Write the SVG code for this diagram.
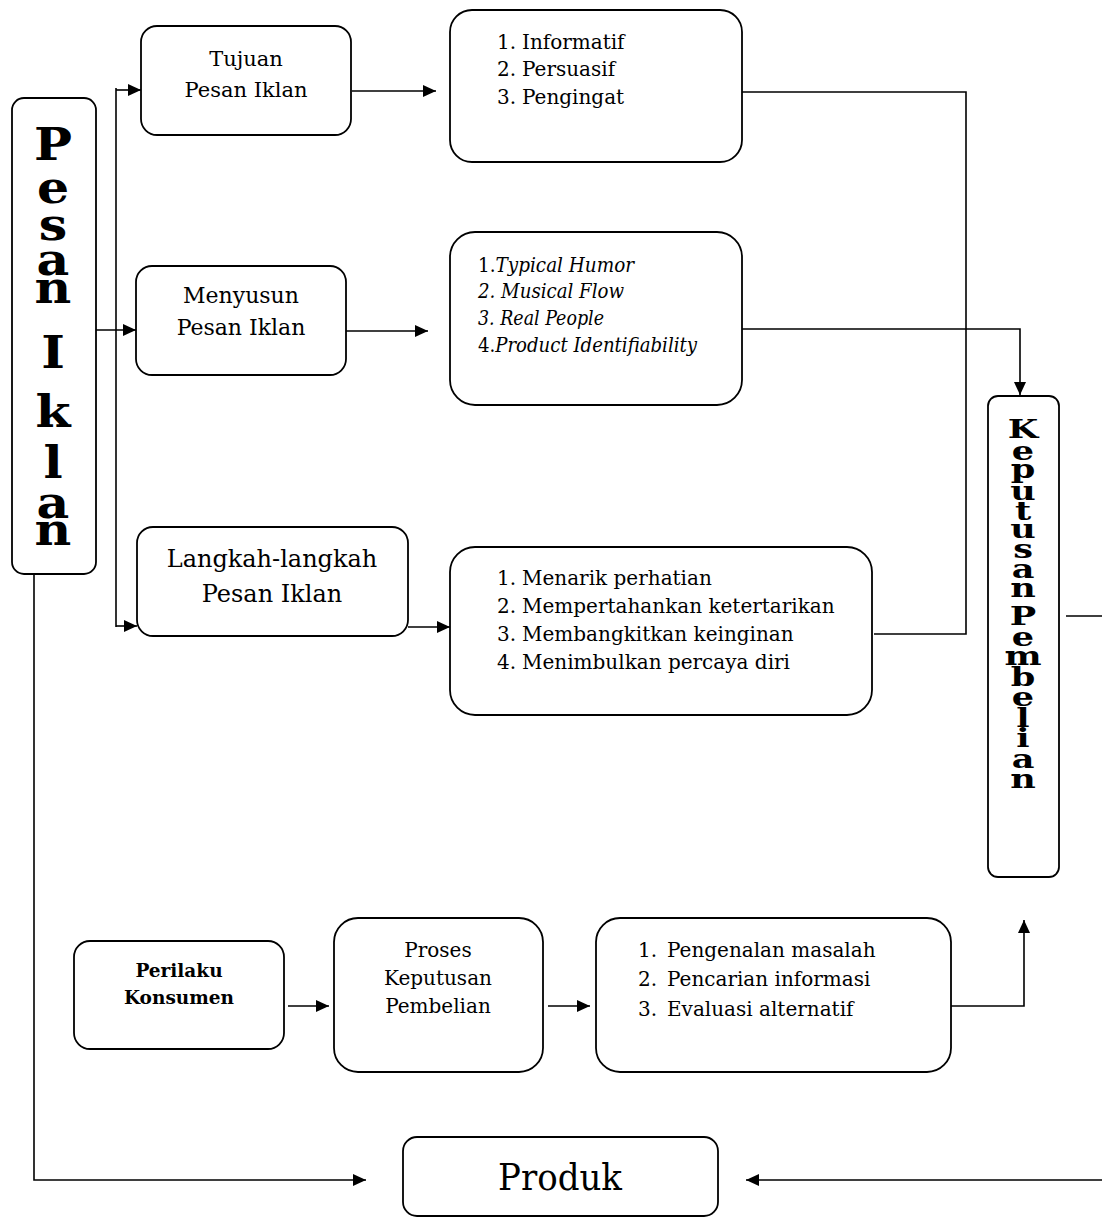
<svg xmlns="http://www.w3.org/2000/svg" width="1102" height="1218" viewBox="0 0 1102 1218">
<style>
.box{fill:#fff;stroke:#000;stroke-width:1.8}
.ln{fill:none;stroke:#000;stroke-width:1.6}
.t{font-family:"DejaVu Serif","Liberation Serif",serif;fill:#000}
.c{text-anchor:middle}
.it{font-style:italic}
.big{font-family:"DejaVu Serif","Liberation Serif",serif;font-weight:bold;fill:#000;text-anchor:middle}
</style>
<defs>
<marker id="ah" markerUnits="userSpaceOnUse" markerWidth="14" markerHeight="14" refX="13" refY="6" orient="auto">
<path d="M0,0 L13,6 L0,12 z" fill="#000"/>
</marker>
</defs>
<g id="connectors">
<path class="ln" d="M116,88 V627"/>
<path class="ln" d="M116,90 H141" marker-end="url(#ah)"/>
<path class="ln" d="M96,330 H136" marker-end="url(#ah)"/>
<path class="ln" d="M116,626 H137" marker-end="url(#ah)"/>
<path class="ln" d="M352,91 H436" marker-end="url(#ah)"/>
<path class="ln" d="M346,331 H428" marker-end="url(#ah)"/>
<path class="ln" d="M408,627 H450" marker-end="url(#ah)"/>
<path class="ln" d="M742,92 H966 V634 H874"/>
<path class="ln" d="M742,329 H1020 V395" marker-end="url(#ah)"/>
<path class="ln" d="M1066,616 H1106 V1180 H746" marker-end="url(#ah)"/>
<path class="ln" d="M34,574 V1180 H366" marker-end="url(#ah)"/>
<path class="ln" d="M288,1006 H329" marker-end="url(#ah)"/>
<path class="ln" d="M548,1006 H590" marker-end="url(#ah)"/>
<path class="ln" d="M951,1006 H1024 V920" marker-end="url(#ah)"/>
</g>
<g id="pesan-iklan">
<rect class="box" x="12" y="98" width="84" height="476" rx="12"/>
<g transform="translate(53 0) scale(1.15 1)">
<text class="big" style="font-size:44px"><tspan x="0" y="160">P</tspan><tspan x="0" y="203">e</tspan><tspan x="0" y="240">s</tspan><tspan x="0" y="275">a</tspan><tspan x="0" y="303">n</tspan><tspan x="0" y="368">I</tspan><tspan x="0" y="427">k</tspan><tspan x="0" y="478">l</tspan><tspan x="0" y="518">a</tspan><tspan x="0" y="545">n</tspan></text>
</g>
</g>
<g id="tujuan">
<rect class="box" x="141" y="26" width="210" height="109" rx="16"/>
<text class="t c" x="246" y="66" style="font-size:21px">Tujuan</text>
<text class="t c" x="246" y="97" style="font-size:21px">Pesan Iklan</text>
</g>
<g id="informatif" style="font-size:20px">
<rect class="box" x="450" y="10" width="292" height="152" rx="22"/>
<text class="t" y="49"><tspan x="497">1.</tspan><tspan x="522">Informatif</tspan></text>
<text class="t" y="76"><tspan x="497">2.</tspan><tspan x="522">Persuasif</tspan></text>
<text class="t" y="104"><tspan x="497">3.</tspan><tspan x="522">Pengingat</tspan></text>
</g>
<g id="menyusun">
<rect class="box" x="136" y="266" width="210" height="109" rx="16"/>
<text class="t c" x="241" y="303" style="font-size:22px">Menyusun</text>
<text class="t c" x="241" y="335" style="font-size:22px">Pesan Iklan</text>
</g>
<g id="typical" style="font-size:20px">
<rect class="box" x="450" y="232" width="292" height="173" rx="25"/>
<text class="t" x="478" y="272" textLength="156" lengthAdjust="spacingAndGlyphs">1.<tspan class="it">Typical Humor</tspan></text>
<text class="t it" x="478" y="298" textLength="146" lengthAdjust="spacingAndGlyphs">2. Musical Flow</text>
<text class="t it" x="478" y="325" textLength="126" lengthAdjust="spacingAndGlyphs">3. Real People</text>
<text class="t" x="478" y="352" textLength="219" lengthAdjust="spacingAndGlyphs">4.<tspan class="it">Product Identifiability</tspan></text>
</g>
<g id="langkah">
<rect class="box" x="137" y="527" width="271" height="109" rx="16"/>
<text class="t c" x="272" y="567" style="font-size:24px">Langkah-langkah</text>
<text class="t c" x="272" y="602" style="font-size:24px">Pesan Iklan</text>
</g>
<g id="menarik" style="font-size:20px">
<rect class="box" x="450" y="547" width="422" height="168" rx="25"/>
<text class="t" y="585"><tspan x="497">1.</tspan><tspan x="522">Menarik perhatian</tspan></text>
<text class="t" y="613"><tspan x="497">2.</tspan><tspan x="522">Mempertahankan ketertarikan</tspan></text>
<text class="t" y="641"><tspan x="497">3.</tspan><tspan x="522">Membangkitkan keinginan</tspan></text>
<text class="t" y="669"><tspan x="497">4.</tspan><tspan x="522">Menimbulkan percaya diri</tspan></text>
</g>
<g id="keputusan">
<rect class="box" x="988" y="396" width="71" height="481" rx="10"/>
<g transform="translate(1023 0) scale(1.35 1)">
<text class="big" style="font-size:26px"><tspan x="0" y="438">K</tspan><tspan x="0" y="460">e</tspan><tspan x="0" y="478">p</tspan><tspan x="0" y="500">u</tspan><tspan x="0" y="520">t</tspan><tspan x="0" y="538">u</tspan><tspan x="0" y="558">s</tspan><tspan x="0" y="578">a</tspan><tspan x="0" y="597">n</tspan><tspan x="0" y="625">P</tspan><tspan x="0" y="646">e</tspan><tspan x="0" y="665">m</tspan><tspan x="0" y="686">b</tspan><tspan x="0" y="706">e</tspan><tspan x="0" y="727">l</tspan><tspan x="0" y="747">i</tspan><tspan x="0" y="768">a</tspan><tspan x="0" y="788">n</tspan></text>
</g>
</g>
<g id="perilaku">
<rect class="box" x="74" y="941" width="210" height="108" rx="16"/>
<text class="t c" x="179" y="977" style="font-size:18.5px;font-weight:bold">Perilaku</text>
<text class="t c" x="179" y="1004" style="font-size:18.5px;font-weight:bold">Konsumen</text>
</g>
<g id="proses" style="font-size:20px">
<rect class="box" x="334" y="918" width="209" height="154" rx="24"/>
<text class="t c" x="438" y="957">Proses</text>
<text class="t c" x="438" y="985">Keputusan</text>
<text class="t c" x="438" y="1013">Pembelian</text>
</g>
<g id="pengenalan" style="font-size:20px">
<rect class="box" x="596" y="918" width="355" height="154" rx="24"/>
<text class="t" y="957"><tspan x="638">1.</tspan><tspan x="667">Pengenalan masalah</tspan></text>
<text class="t" y="986"><tspan x="638">2.</tspan><tspan x="667">Pencarian informasi</tspan></text>
<text class="t" y="1016"><tspan x="638">3.</tspan><tspan x="667">Evaluasi alternatif</tspan></text>
</g>
<g id="produk">
<rect class="box" x="403" y="1137" width="315" height="79" rx="14"/>
<text class="t" x="498" y="1190" style="font-size:38px" textLength="124" lengthAdjust="spacingAndGlyphs">Produk</text>
</g>
</svg>
